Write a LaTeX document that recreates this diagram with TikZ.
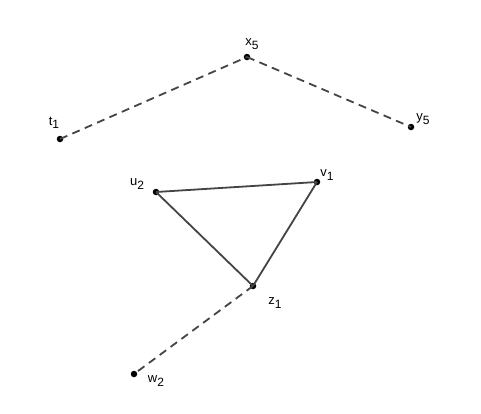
\documentclass[tikz,border=0pt]{standalone}
\usepackage{fontspec}
\setmainfont{Liberation Sans}
\definecolor{edgecolor}{RGB}{68,68,68}
\newcommand{\lowidx}[1]{\raisebox{-0.5ex}{\fontsize{12}{14}\selectfont#1}}

\begin{document}
\begin{tikzpicture}[x=1pt, y=-1pt]
\tikzset{
  pt/.style={circle, fill=black, inner sep=0pt, minimum size=6.5pt},
  lbl/.style={inner sep=0pt, font=\fontsize{13}{15}\selectfont},
  seg/.style={draw=edgecolor, line width=1.8pt},
  hidden/.style={seg, dash pattern=on 8pt off 5.5pt},
}
\useasboundingbox (0,0) rectangle (481,413);

% points
\node [pt] (x5) at (247,57)  {};
\node [pt] (t1) at (60,139)  {};
\node [pt] (y5) at (411,127) {};
\node [pt] (u2) at (156,192) {};
\node [pt] (v1) at (317,182) {};
\node [pt] (z1) at (253,286) {};
\node [pt] (w2) at (134,374) {};

% names
\node [lbl] (lx5) at (252,44)  {x\lowidx{5}};
\node [lbl] (lt1) at (54,123)  {t\lowidx{1}};
\node [lbl] (ly5) at (423,119) {y\lowidx{5}};
\node [lbl] (lu2) at (137,184) {u\lowidx{2}};
\node [lbl] (lv1) at (327,175) {v\lowidx{1}};
\node [lbl] (lz1) at (275,303) {z\lowidx{1}};
\node [lbl] (lw2) at (156,381) {w\lowidx{2}};

%connect
\draw [hidden] (t1.center) -- (x5.center);
\draw [hidden] (x5.center) -- (y5.center);
\draw [hidden] (z1.center) -- (w2.center);
\draw [seg] (u2.center) -- (v1.center);
\draw [seg] (v1.center) -- (z1.center);
\draw [seg] (z1.center) -- (u2.center);

\end{tikzpicture}
\end{document}
